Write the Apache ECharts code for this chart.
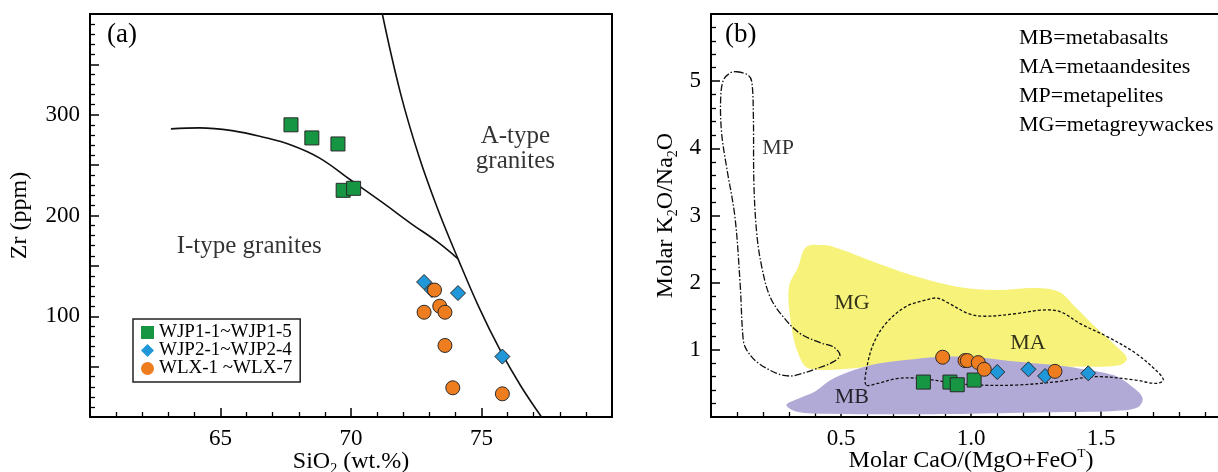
<!DOCTYPE html>
<html><head><meta charset="utf-8">
<script src="https://cdn.jsdelivr.net/npm/echarts@6/dist/echarts.min.js"></script>
<style>html,body{margin:0;padding:0;background:#fff}#c{width:1218px;height:472px}</style>
</head><body><div id="c"></div>
<script>
// ---------- Panel (a): SiO2 (wt.%) vs Zr (ppm) ----------
const A_WJP1 = [[67.7,290],[68.5,277],[69.5,271],[69.7,225],[70.1,227]];
const A_WJP2 = [[72.8,134],[73.1,126],[74.1,123],[75.8,60]];
const A_WLX  = [[73.2,126],[72.8,104],[73.4,110],[73.6,104],[73.6,71],[73.9,29],[75.8,23]];
const A_CURVE_I = [[63.1,286],[64.2,287],[65.5,284],[66.6,278],[67.7,270],[68.8,257],[70.0,235],[71.2,213],[72.3,192],[73.3,174],[74.1,157]];
const A_CURVE_A = [[71.2,400],[71.9,321],[72.6,259],[73.3,208],[74.1,157],[74.9,109],[75.7,67],[76.5,31],[77.3,0]];
const A_LABELS = [[66.1,169,'I-type granites'],[76.3,266,'A-type\ngranites']];

// ---------- Panel (b): Molar CaO/(MgO+FeOT) vs Molar K2O/Na2O ----------
const B_WJP1 = [[0.817,0.52],[0.919,0.52],[0.947,0.48],[1.012,0.55]];
const B_WJP2 = [[1.101,0.67],[1.221,0.71],[1.285,0.61],[1.451,0.65]];
const B_WLX  = [[0.891,0.89],[0.977,0.84],[0.986,0.84],[1.028,0.81],[1.051,0.71],[1.323,0.68]];
const B_MG = [[0.366,2.53],[0.43,2.56],[0.49,2.51],[0.64,2.29],[0.79,2.09],[0.946,1.94],[1.10,1.89],[1.25,1.92],[1.34,1.86],[1.40,1.64],[1.47,1.37],[1.56,1.05],[1.60,0.87],[1.57,0.77],[1.40,0.75],[1.0,0.75],[0.64,0.75],[0.38,0.72],[0.335,0.95],[0.306,1.44],[0.30,1.94],[0.335,2.23]];
const B_MB = [[0.29,0.18],[0.34,0.28],[0.40,0.38],[0.46,0.55],[0.55,0.70],[0.65,0.80],[0.78,0.86],[0.90,0.90],[1.02,0.89],[1.16,0.83],[1.30,0.78],[1.42,0.72],[1.55,0.62],[1.62,0.45],[1.66,0.28],[1.64,0.14],[1.55,0.09],[1.30,0.07],[1.00,0.05],[0.70,0.04],[0.45,0.05],[0.33,0.08]];
const B_MA = [[0.596,0.48],[0.60,0.75],[0.626,1.10],[0.672,1.39],[0.748,1.64],[0.825,1.74],[0.87,1.77],[0.916,1.69],[0.99,1.54],[1.054,1.50],[1.176,1.54],[1.267,1.59],[1.342,1.57],[1.42,1.39],[1.527,1.19],[1.633,0.95],[1.71,0.70],[1.74,0.55],[1.71,0.50],[1.633,0.55],[1.48,0.60],[1.33,0.525],[1.176,0.476],[1.023,0.476],[0.946,0.50],[0.80,0.575],[0.72,0.575],[0.64,0.50]];
const B_MP = [[0.099,5.14],[0.143,5.09],[0.157,4.99],[0.163,4.47],[0.165,3.48],[0.176,2.73],[0.195,2.24],[0.227,1.79],[0.278,1.49],[0.342,1.245],[0.42,1.106],[0.47,1.046],[0.496,0.92],[0.47,0.82],[0.406,0.72],[0.342,0.64],[0.304,0.61],[0.253,0.65],[0.176,0.82],[0.137,1.0],[0.124,1.15],[0.112,1.99],[0.092,2.98],[0.06,3.72],[0.041,4.22],[0.037,4.72],[0.047,5.01],[0.073,5.12]];
const B_LABELS = [[0.258,4.0,'MP'],[0.542,1.70,'MG'],[1.219,1.10,'MA'],[0.542,0.30,'MB']];
const B_KEY = ['MB=metabasalts','MA=metaandesites','MP=metapelites','MG=metagreywackes'];

const NAMES = ['WJP1-1~WJP1-5','WJP2-1~WJP2-4','WLX-1 ~WLX-7'];
const FONT = '"Liberation Serif","Times New Roman",serif';
const C_G = '#169543', C_B = '#1f97d8', C_O = '#ee7d1f';
const INK = '#000';

const chart = echarts.init(document.getElementById('c'));

function axisCommon() {
  return {
    type:'value',
    axisLine:{show:true,onZero:false,lineStyle:{color:'#000',width:2}},
    axisTick:{show:true,inside:true,length:9,lineStyle:{color:'#000',width:1.5}},
    minorTick:{show:true,inside:true,splitNumber:5,length:5,lineStyle:{color:'#000',width:1.3}},
    splitLine:{show:false}, minorSplitLine:{show:false},
    axisLabel:{fontFamily:FONT,fontSize:23,color:INK,margin:10,showMinLabel:false,showMaxLabel:false},
    nameLocation:'middle',
    nameMoveOverlap:false,
    nameTextStyle:{fontFamily:FONT,fontSize:24,color:INK,lineHeight:28,
      rich:{sub:{fontFamily:FONT,fontSize:14,lineHeight:12,verticalAlign:'bottom',color:INK},
            sup:{fontFamily:FONT,fontSize:13,lineHeight:12,verticalAlign:'top',color:INK}}}
  };
}

function poly(pts, style, z) {
  return {type:'custom', xAxisIndex:1, yAxisIndex:1, data:[[0,0]], silent:true, z:z,
    renderItem:(params, api) => ({type:'polygon',
      shape:{points: pts.map(p => api.coord(p)), smooth:0.35}, style:style})};
}

function labelSeries(data, xi, fs) {
  return {type:'scatter', xAxisIndex:xi, yAxisIndex:xi, data:data, symbolSize:1, silent:true, z:20,
    itemStyle:{color:'rgba(0,0,0,0)'},
    label:{show:true, position:'inside', formatter:p => p.data[2], fontFamily:FONT, fontSize:fs, color:INK,
      lineHeight:25, textBorderWidth:0}};
}

function pts(name, data, xi, symbol, color, size) {
  return {name:name, type:'scatter', xAxisIndex:xi, yAxisIndex:xi, data:data, symbol:symbol, symbolSize:size, z:10,
    itemStyle:{color:color, borderColor:'#2a2a2a', borderWidth:1, opacity:1}};
}

const xa = Object.assign(axisCommon(), {gridIndex:0, min:60, max:80, interval:5,
  name:'SiO{sub|2} (wt.%)', nameGap:31});
const ya = Object.assign(axisCommon(), {gridIndex:0, min:0, max:400, interval:50,
  name:'Zr (ppm)', nameGap:56});
ya.axisLabel = Object.assign({}, ya.axisLabel, {formatter: v => (v % 100 === 0 && v > 0 && v < 400) ? String(v) : ''});
const xb = Object.assign(axisCommon(), {gridIndex:1, min:0, max:2, interval:0.5,
  name:'Molar CaO/(MgO+FeO{sup|T})', nameGap:30});
xb.axisLabel = Object.assign({}, xb.axisLabel, {formatter: v => v.toFixed(1)});
const yb = Object.assign(axisCommon(), {gridIndex:1, min:0, max:6, interval:1,
  name:'Molar K{sub|2}O/Na{sub|2}O', nameGap:31});

const titleStyle = {fontFamily:FONT, fontWeight:'normal', color:INK};

chart.setOption({
  animation:false,
  backgroundColor:'#fff',
  title:[
    {text:'(a)', left:107, top:21, padding:0, textStyle:Object.assign({fontSize:27}, titleStyle)},
    {text:'(b)', left:725, top:21, padding:0, textStyle:Object.assign({fontSize:27}, titleStyle)},
    {text:B_KEY.join('\n'), left:1019, top:24, padding:0, textStyle:Object.assign({fontSize:22, lineHeight:29}, titleStyle)}
  ],
  legend:{left:133, top:319, orient:'vertical', data:NAMES, itemWidth:13, itemHeight:13, itemGap:-1,
    padding:[4,8,4,8], borderColor:'#222', borderWidth:1.5, backgroundColor:'#fff', selectedMode:false,
    itemStyle:{borderWidth:0},
    textStyle:{fontFamily:FONT, fontSize:19, color:INK}},
  grid:[
    {left:90, top:14, width:522, height:403, show:true, borderColor:'#000', borderWidth:2, outerBoundsMode:'none', containLabel:false},
    {left:711, top:14, width:520, height:403, show:true, borderColor:'#000', borderWidth:2, outerBoundsMode:'none', containLabel:false}
  ],
  xAxis:[xa, xb],
  yAxis:[ya, yb],
  series:[
    {type:'line', xAxisIndex:0, yAxisIndex:0, data:A_CURVE_I, smooth:0.4, symbol:'none', silent:true, z:3,
      lineStyle:{color:'#111', width:1.6}},
    {type:'line', xAxisIndex:0, yAxisIndex:0, data:A_CURVE_A, smooth:0.4, symbol:'none', silent:true, z:3,
      lineStyle:{color:'#111', width:1.6}},
    pts(NAMES[0], A_WJP1, 0, 'rect', C_G, 14),
    pts(NAMES[1], A_WJP2, 0, 'diamond', C_B, 15),
    pts(NAMES[2], A_WLX, 0, 'circle', C_O, 14),
    labelSeries(A_LABELS, 0, 25),
    poly(B_MG, {fill:'#f6f27a', stroke:'none'}, 1),
    poly(B_MB, {fill:'#b1aad6', stroke:'none'}, 2),
    poly(B_MA, {fill:'none', stroke:'#111', lineWidth:1.3, lineDash:[3,2]}, 4),
    poly(B_MP, {fill:'none', stroke:'#111', lineWidth:1.3, lineDash:[7,2,1.5,2]}, 4),
    pts(NAMES[0], B_WJP1, 1, 'rect', C_G, 14),
    pts(NAMES[1], B_WJP2, 1, 'diamond', C_B, 15),
    pts(NAMES[2], B_WLX, 1, 'circle', C_O, 14),
    labelSeries(B_LABELS, 1, 22)
  ]
});
</script></body></html>
